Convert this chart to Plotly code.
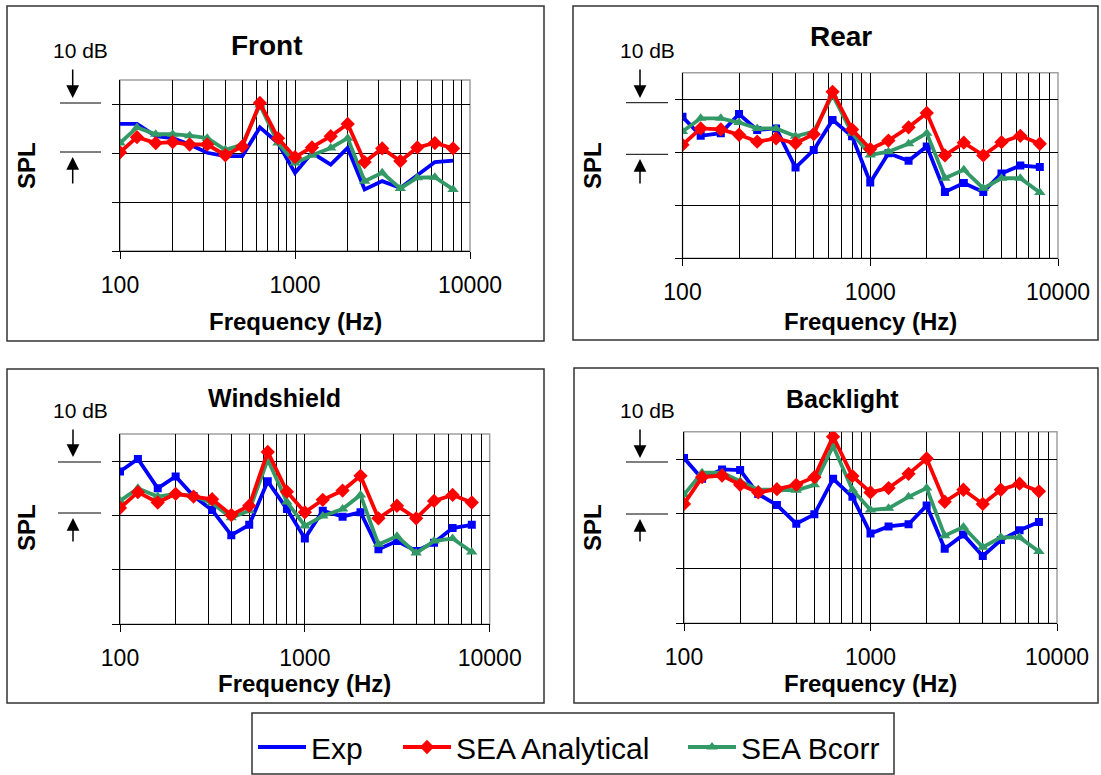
import plotly.graph_objects as go

W, H = 1101, 775

# ---------------- data ----------------
freq = [100, 125, 160, 200, 250, 315, 400, 500, 630, 800, 1000,
        1250, 1600, 2000, 2500, 3150, 4000, 5000, 6300, 8000]

front_exp = [26.0, 26.0, 23.5, 23.1, 21.8, 20.1, 19.4, 19.4, 25.3, 22.1, 16.0,
             20.1, 17.7, 21.1, 12.6, 14.3, 12.9, 15.6, 18.2, 18.5]
front_ana = [20.2, 23.3, 22.1, 22.3, 21.8, 21.8, 19.6, 21.4, 30.3, 23.1, 19.2,
             21.2, 23.5, 26.0, 18.2, 21.0, 18.4, 21.2, 22.1, 21.0]
front_bcorr = [22.1, 25.3, 23.9, 23.9, 23.6, 23.1, 20.7, 21.8, 29.9, 22.1, 18.0,
               19.6, 21.1, 23.1, 14.3, 16.0, 12.8, 15.0, 15.1, 12.6]

rear_exp = [26.7, 23.1, 23.6, 27.2, 24.2, 24.5, 17.1, 20.4, 26.1, 23.0, 14.3,
            19.8, 18.4, 21.1, 12.5, 14.2, 12.5, 16.0, 17.5, 17.2]
rear_ana = [21.4, 24.5, 24.3, 23.3, 22.0, 22.6, 21.7, 23.4, 31.4, 24.3, 20.6,
            22.2, 24.7, 27.4, 19.4, 21.8, 19.4, 21.9, 23.1, 21.6]
rear_bcorr = [23.9, 26.4, 26.4, 25.6, 24.5, 24.5, 23.0, 23.9, 30.8, 23.6, 19.5,
              20.1, 21.6, 23.6, 15.1, 16.7, 13.2, 15.1, 15.1, 12.4]

wind_exp = [28.1, 30.4, 25.0, 27.2, 23.6, 21.0, 16.4, 18.3, 26.3, 21.2, 15.8,
            20.9, 19.8, 20.6, 13.8, 15.3, 13.5, 15.0, 17.7, 18.3]
wind_ana = [21.4, 24.3, 22.4, 24.0, 23.5, 23.0, 20.1, 21.8, 31.7, 24.4, 20.6,
            22.9, 24.6, 27.3, 19.5, 21.8, 19.5, 22.7, 23.8, 22.4]
wind_bcorr = [22.7, 25.0, 23.5, 24.0, 23.6, 22.3, 19.6, 20.9, 30.3, 22.5, 18.1,
              19.9, 21.2, 23.8, 14.7, 16.2, 13.1, 15.3, 15.8, 13.3]

back_exp = [30.2, 26.4, 28.1, 28.0, 23.6, 21.6, 18.2, 19.9, 26.4, 23.1, 16.4,
            17.7, 18.1, 21.5, 13.6, 16.2, 12.3, 15.2, 17.0, 18.5]
back_ana = [21.8, 26.7, 27.0, 25.3, 23.9, 24.5, 25.3, 26.7, 34.1, 26.9, 23.9,
            24.7, 27.3, 30.1, 22.2, 24.4, 21.8, 24.4, 25.5, 24.1]
back_bcorr = [23.5, 27.5, 27.5, 25.9, 24.4, 24.4, 24.3, 25.3, 32.4, 24.4, 20.7,
              21.0, 23.1, 24.7, 16.0, 17.6, 13.9, 15.7, 15.7, 13.1]

panel_names = ["Front", "Rear", "Windshield", "Backlight"]
series_names = ["Exp", "SEA Analytical", "SEA Bcorr"]
x_tick_vals = [100, 1000, 10000]
x_tick_text = ["100", "1000", "10000"]
x_grid_vals = [200, 300, 400, 500, 600, 700, 800, 900, 1000,
               2000, 3000, 4000, 5000, 6000, 7000, 8000, 9000]
y_tick_vals = [0, 10, 20, 30]

panel_data = [
    (front_exp, front_ana, front_bcorr),
    (rear_exp, rear_ana, rear_bcorr),
    (wind_exp, wind_ana, wind_bcorr),
    (back_exp, back_ana, back_bcorr),
]

# ---------------- layout geometry (pixels) ----------------
FONT = "Arial, Liberation Sans, sans-serif"
BLUE, RED, GREEN = "#0000FF", "#FF0000", "#339966"

def px(x):
    return x / W

def py(y):
    return 1 - y / H

# plot area (left, top, right, bottom) in px
areas = [(120, 80, 470, 251), (682.5, 72.7, 1058, 258.3),
         (120, 434, 489.7, 624.3), (684, 431.7, 1057, 623.3)]
boxes = [(7, 6, 544, 341), (573, 6, 1098, 340),
         (7, 369, 544, 703), (574, 368, 1098, 703)]
titles = [(267, 45, 28), (841, 37, 28), (274, 398, 25), (842, 399, 25)]
spl_pos = [(26, 165), (592, 165), (26, 527), (592, 527)]
db_pos = [(80.5, 50.5), (647, 50.5), (80.5, 410), (647, 410)]
freq_pos = [(295, 321.5), (870, 321.5), (304.5, 683.5), (870.5, 683.5)]
marks = [  # x0, x1, y_top_line, y_bottom_line, arrow_x, down_tail, down_tip, up_tail, up_tip
    (60, 101, 103, 152, 72.7, 68, 98, 185, 157),
    (626, 668, 102.7, 154.3, 640, 68, 98, 185, 159),
    (58, 101, 462, 513, 73, 428, 457, 543, 518),
    (626, 668, 462, 514, 640, 428, 458, 543, 519),
]
legend_x = [253, 398, 683]
legend_names = ["legend", "legend2", "legend3"]

fig = go.Figure()
shapes = []
annotations = []

for i, name in enumerate(panel_names):
    k = "" if i == 0 else str(i + 1)
    xa, ya = "x" + k, "y" + k
    exp, ana, bco = panel_data[i]
    show = (i == 0)
    fig.add_trace(go.Scatter(
        x=freq, y=exp, name=series_names[0], xaxis=xa, yaxis=ya,
        mode="lines" if i == 0 else "lines+markers",
        line=dict(color=BLUE, width=3.8),
        marker=dict(symbol="square", size=8, color=BLUE),
        showlegend=show, legend=legend_names[0]))
    fig.add_trace(go.Scatter(
        x=freq, y=bco, name=series_names[2], xaxis=xa, yaxis=ya,
        mode="lines+markers", line=dict(color=GREEN, width=3.8),
        marker=dict(symbol="triangle-up", size=10, color=GREEN),
        showlegend=show, legend=legend_names[2]))
    fig.add_trace(go.Scatter(
        x=freq, y=ana, name=series_names[1], xaxis=xa, yaxis=ya,
        mode="lines+markers", line=dict(color=RED, width=3.8),
        marker=dict(symbol="diamond", size=11, color=RED),
        showlegend=show, legend=legend_names[1]))

    l, t, r, b = areas[i]
    fig.layout["xaxis" + k] = dict(
        type="log", range=[2, 4], domain=[px(l), px(r)], anchor=ya,
        tickmode="array", tickvals=x_tick_vals, ticktext=x_tick_text,
        ticks="outside", ticklen=7, tickcolor="black", tickwidth=1,
        ticklabelstandoff=6,
        showgrid=False, zeroline=False, automargin=False,
        showline=True, linecolor="black", linewidth=1, mirror=False,
        tickfont=dict(family=FONT, size=23, color="black"),
        minor=dict(tickmode="array", tickvals=x_grid_vals, showgrid=True,
                   gridcolor="black", gridwidth=1, ticks=""),
        fixedrange=True)
    fig.layout["yaxis" + k] = dict(
        range=[0, 35], domain=[py(b), py(t)], anchor=xa,
        tickmode="array", tickvals=y_tick_vals, showticklabels=False,
        ticks="outside", ticklen=7, tickcolor="black", tickwidth=1,
        showgrid=True, gridcolor="black", gridwidth=1, zeroline=False,
        automargin=False,
        showline=True, linecolor="black", linewidth=1, mirror=False,
        fixedrange=True)

    # gray plot-area border (top/right visible)
    shapes.append(dict(type="rect", xref=xa + " domain", yref=ya + " domain",
                       x0=0, x1=1, y0=0, y1=1, layer="below",
                       line=dict(color="#A0A0A0", width=1.5)))
    # panel frame
    bx0, by0, bx1, by1 = boxes[i]
    shapes.append(dict(type="rect", xref="paper", yref="paper",
                       x0=px(bx0), x1=px(bx1), y0=py(by1), y1=py(by0),
                       line=dict(color="#333333", width=1.5)))
    # 10 dB marker lines
    mx0, mx1, ly1, ly2, ax_, dt, dtip, ut, utip = marks[i]
    for yy in (ly1, ly2):
        shapes.append(dict(type="line", xref="paper", yref="paper",
                           x0=px(mx0), x1=px(mx1), y0=py(yy), y1=py(yy),
                           line=dict(color="black", width=1)))
    annotations.append(dict(x=px(ax_), y=py(dtip), xref="paper", yref="paper",
                            ax=0, ay=-(dtip - dt), text="", showarrow=True,
                            arrowhead=2, arrowsize=1.7, arrowwidth=1.5,
                            arrowcolor="black"))
    annotations.append(dict(x=px(ax_), y=py(utip), xref="paper", yref="paper",
                            ax=0, ay=(ut - utip), text="", showarrow=True,
                            arrowhead=2, arrowsize=1.7, arrowwidth=1.5,
                            arrowcolor="black"))
    # texts
    tx, ty, ts = titles[i]
    annotations.append(dict(x=px(tx), y=py(ty), xref="paper", yref="paper",
                            text="<b>%s</b>" % name, showarrow=False,
                            xanchor="center", yanchor="middle",
                            font=dict(family=FONT, size=ts, color="black")))
    sx, sy = spl_pos[i]
    annotations.append(dict(x=px(sx), y=py(sy), xref="paper", yref="paper",
                            text="<b>SPL</b>", showarrow=False, textangle=-90,
                            xanchor="center", yanchor="middle",
                            font=dict(family=FONT, size=24, color="black")))
    dx, dy = db_pos[i]
    annotations.append(dict(x=px(dx), y=py(dy), xref="paper", yref="paper",
                            text="10 dB", showarrow=False,
                            xanchor="center", yanchor="middle",
                            font=dict(family=FONT, size=21, color="black")))
    fx, fy = freq_pos[i]
    annotations.append(dict(x=px(fx), y=py(fy), xref="paper", yref="paper",
                            text="<b>Frequency (Hz)</b>", showarrow=False,
                            xanchor="center", yanchor="middle",
                            font=dict(family=FONT, size=24, color="black")))

# legend frame
shapes.append(dict(type="rect", xref="paper", yref="paper",
                   x0=px(252), x1=px(894), y0=py(774), y1=py(713),
                   line=dict(color="#333333", width=1.5)))

legend_common = dict(orientation="h", yanchor="top", xanchor="left",
                     y=py(721), borderwidth=0, bgcolor="rgba(0,0,0,0)",
                     itemwidth=48,
                     font=dict(family=FONT, size=30, color="black"))

fig.update_layout(
    width=W, height=H, margin=dict(l=0, r=0, t=0, b=0, autoexpand=False),
    paper_bgcolor="white", plot_bgcolor="white",
    shapes=shapes, annotations=annotations,
    showlegend=True,
    legend=dict(x=px(legend_x[0]), **legend_common),
    legend2=dict(x=px(legend_x[1]), **legend_common),
    legend3=dict(x=px(legend_x[2]), **legend_common),
)

fig.write_html("out.html")
